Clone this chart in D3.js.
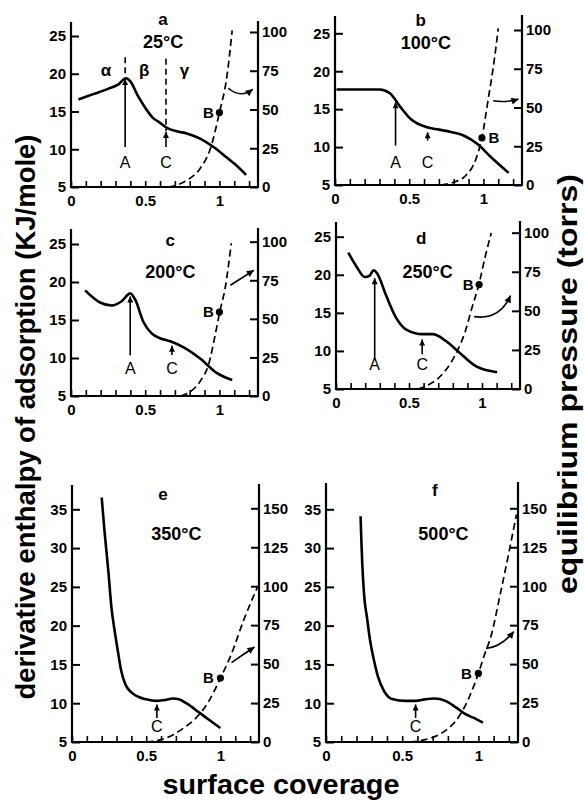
<!DOCTYPE html>
<html><head><meta charset="utf-8">
<script src="https://cdn.jsdelivr.net/npm/d3@7"></script>
<style>
body{margin:0;background:#fff}
svg{display:block}
text{font-family:"Liberation Sans",Arial,sans-serif;fill:#000}
</style>
</head><body>
<svg id="chart" width="584" height="803"></svg>
<script>
// ---------- data ----------
// enthalpy curves (left axis, kJ/mole) vs surface coverage
const covA  = [0.05,0.15,0.25,0.32,0.37,0.40,0.45,0.50,0.55,0.60,0.65,0.72,0.78,0.87,0.96,1.05,1.10,1.18];
const enthA = [16.6,17.3,18.0,18.6,19.4,19.0,17.1,15.5,14.2,13.5,12.8,12.35,12.1,11.4,10.3,8.9,8.1,6.6];
const covB  = [0.01,0.15,0.30,0.37,0.44,0.51,0.62,0.70,0.78,0.87,0.96,1.05,1.17];
const enthB = [17.6,17.6,17.6,17.1,15.3,13.7,12.6,12.3,12.0,11.5,10.4,8.7,6.6];
const covC  = [0.095,0.196,0.275,0.343,0.399,0.432,0.489,0.545,0.60,0.669,0.759,0.872,0.984,1.086];
const enthC = [18.9,17.3,16.9,17.5,18.5,17.7,14.7,13.2,12.6,12.2,11.4,9.9,8.0,7.1];
const covD  = [0.084,0.14,0.197,0.231,0.258,0.281,0.345,0.413,0.481,0.594,0.662,0.753,0.844,0.957,1.104];
const enthD = [22.9,21.1,19.7,19.9,20.6,20.2,17.2,14.3,12.8,12.2,12.2,11.3,9.8,8.0,7.2];
const covE  = [0.20,0.22,0.245,0.265,0.29,0.31,0.33,0.36,0.40,0.45,0.50,0.57,0.62,0.68,0.72,0.77,0.85,0.92,1.0];
const enthE = [36.5,32,27,22.5,19,16.6,14.3,12.4,11.4,10.8,10.5,10.3,10.4,10.6,10.5,10.0,8.9,7.9,6.8];
const covF  = [0.227,0.232,0.238,0.25,0.27,0.29,0.314,0.34,0.38,0.44,0.52,0.588,0.65,0.71,0.784,0.85,0.907,0.97,1.03];
const enthF = [34.1,31,28.0,24,20.9,18,15.6,13.5,11.6,10.5,10.3,10.3,10.5,10.6,10.3,9.5,8.7,8.1,7.5];
// equilibrium pressure curves (right axis, torrs) vs surface coverage
const pcovA = [0.657,0.72,0.78,0.87,0.94,1.0,1.05,1.086];
const presA = [0,1.5,4.3,12,25,48,71,101];
const pcovB = [0.714,0.80,0.873,0.952,0.99,1.03,1.076,1.10];
const presB = [0,1.8,5.4,17.4,30.4,54,82.6,101];
const pcovC = [0.74,0.80,0.872,0.928,0.973,1.002,1.04,1.08];
const presC = [0,2.5,9.8,20.7,40.3,54.4,70.7,99];
const pcovD = [0.56,0.64,0.704,0.818,0.886,0.931,0.976,1.022,1.063];
const presD = [0,3,7.2,22.1,37.1,52,66,84.8,99.8];
const pcovE = [0.5,0.6,0.676,0.76,0.824,0.923,1.0,1.07,1.16,1.25];
const presE = [0,1.5,4.4,9.5,14.3,26.4,41,55.5,79,99.5];
const pcovF = [0.55,0.65,0.735,0.80,0.858,0.944,1.0,1.04,1.08,1.146,1.25];
const presF = [0,1.5,4.4,8.5,14.3,29.7,44,56,67,96,146];
// point B (coverage, pressure)
const pointB = {a:[1.0,48], b:[0.99,30.4], c:[1.0,54.4], d:[0.98,66.8], e:[1.0,41], f:[1.0,44]};
// tick values / labels
const xTicks = d3.range(13).map(i => i/10);
const xTickLabels = {0:"0", 0.5:"0.5", 1:"1"};
const leftTicksTop = [5,10,15,20,25];
const rightTicksTop = [0,25,50,75,100];
const leftTicksBottom = [5,10,15,20,25,30,35];
const rightTicksBottom = [0,25,50,75,100,125,150];
const panelLetters = ["a","b","c","d","e","f"];
const temperatures = ["25°C","100°C","200°C","250°C","350°C","500°C"];

// ---------- layout ----------
const panels = [
 {k:"a",L:71,R:258,B:187,yDom:[5,25],yTop:36,pDom:[0,100],pTop:32,axTop:22,
  cov:covA,enth:enthA,pcov:pcovA,pres:presA,lt:leftTicksTop,rt:rightTicksTop,
  title:[0.62,27.3],temp:[0.62,24.2],A:[0.365,10.3,19.3],C:[0.64,10.3,12.3],lab:8.2,bdx:-11,
  arrow:{from:[1.06,63.7],to:[1.225,63],ctrl:[1.14,57]}},
 {k:"b",L:335,R:522,B:185,yDom:[5,25],yTop:33.3,pDom:[0,100],pTop:30,axTop:16,
  cov:covB,enth:enthB,pcov:pcovB,pres:presB,lt:leftTicksTop,rt:rightTicksTop,
  title:[0.578,26.8],temp:[0.612,23.8],A:[0.408,10.2,15.9],C:[0.624,10.85,11.95],lab:7.96,bdx:12,
  arrow:{from:[1.066,54.3],to:[1.236,55.4],ctrl:[1.15,53]}},
 {k:"c",L:71,R:258,B:396,yDom:[5,25],yTop:244,pDom:[0,100],pTop:241.7,axTop:229,
  cov:covC,enth:enthC,pcov:pcovC,pres:presC,lt:leftTicksTop,rt:rightTicksTop,
  title:[0.669,25.5],temp:[0.669,21.4],A:[0.399,10.35,18.1],C:[0.68,10.4,11.6],lab:8.6,bdx:-11,
  arrow:{from:[1.074,71.8],to:[1.232,81.5],ctrl:[1.153,76.6]}},
 {k:"d",L:336,R:520,B:389,yDom:[5,25],yTop:236.7,pDom:[0,100],pTop:232.7,axTop:222,
  cov:covD,enth:enthD,pcov:pcovD,pres:presD,lt:leftTicksTop,rt:rightTicksTop,
  title:[0.583,24.8],temp:[0.628,20.4],A:[0.265,8.9,19.56],C:[0.59,9.56,11.5],lab:8.26,bdx:-11,
  arrow:{from:[0.946,46.3],to:[1.195,59.8],ctrl:[1.12,44]}},
 {k:"e",L:72,R:259,B:742,yDom:[5,35],yTop:509.3,pDom:[0,150],pTop:508.3,axTop:485,
  cov:covE,enth:enthE,pcov:pcovE,pres:presE,lt:leftTicksBottom,rt:rightTicksBottom,
  title:[0.613,37.0],temp:[0.703,31.9],A:null,C:[0.572,8.1,9.85],lab:7.0,bdx:-12,
  arrow:{from:[1.075,51],to:[1.23,61],ctrl:[1.15,56]}},
 {k:"f",L:326,R:518,B:742,yDom:[5,35],yTop:509.3,pDom:[0,150],pTop:508.3,axTop:483,
  cov:covF,enth:enthF,pcov:pcovF,pres:presF,lt:leftTicksBottom,rt:rightTicksBottom,
  title:[0.715,37.5],temp:[0.771,31.9],A:null,C:[0.588,8.1,9.85],lab:7.0,bdx:-12,
  arrow:{from:[1.05,60],to:[1.233,71],ctrl:[1.15,61]}}
];

const svg = d3.select("#chart");
const defs = svg.append("defs");
defs.append("marker").attr("id","ah").attr("viewBox","0 0 10 10")
  .attr("refX",10).attr("refY",5).attr("markerWidth",10).attr("markerHeight",7)
  .attr("markerUnits","userSpaceOnUse").attr("orient","auto")
  .append("path").attr("d","M0,0 L10,5 L0,10 Z").attr("fill","#000");
defs.append("marker").attr("id","ah2").attr("viewBox","0 0 10 10")
  .attr("refX",10).attr("refY",5).attr("markerWidth",11).attr("markerHeight",6)
  .attr("markerUnits","userSpaceOnUse").attr("orient","auto")
  .append("path").attr("d","M0,0 L10,5 L0,10 Z").attr("fill","#000");

const tickFont = 15;

panels.forEach((p,i) => {
  const g = svg.append("g");
  const x = d3.scaleLinear().domain([0,1.26]).range([p.L,p.R]);
  const y = d3.scaleLinear().domain(p.yDom).range([p.B,p.yTop]);
  const yp = d3.scaleLinear().domain(p.pDom).range([p.B,p.pTop]);

  // axes
  const ax = d3.axisLeft(y).tickValues(p.lt).tickSizeInner(-8).tickSizeOuter(0).tickPadding(5);
  const axL = g.append("g").attr("transform",`translate(${p.L},0)`).call(ax);
  const axr = d3.axisRight(yp).tickValues(p.rt).tickSizeInner(-8).tickSizeOuter(0).tickPadding(4);
  const axR = g.append("g").attr("transform",`translate(${p.R},0)`).call(axr);
  const axb = d3.axisBottom(x).tickValues(xTicks).tickSizeInner(-6).tickSizeOuter(0).tickPadding(8)
    .tickFormat(d => xTickLabels[d] !== undefined ? xTickLabels[d] : "");
  const axB = g.append("g").attr("transform",`translate(0,${p.B})`).call(axb);
  [axL,axR,axB].forEach(a => {
    a.select(".domain").remove();
    a.selectAll("line").attr("stroke","#000").attr("stroke-width",2);
    a.selectAll("text").attr("font-size",tickFont).attr("font-weight","bold")
      .attr("font-family","'Liberation Sans',Arial,sans-serif").attr("fill","#000");
  });
  axB.selectAll("line").attr("stroke-width",1.6);
  // axis lines
  g.append("line").attr("x1",p.L).attr("x2",p.L).attr("y1",p.B+1).attr("y2",p.axTop)
    .attr("stroke","#000").attr("stroke-width",2.2);
  g.append("line").attr("x1",p.R).attr("x2",p.R).attr("y1",p.B+1).attr("y2",p.axTop-1)
    .attr("stroke","#000").attr("stroke-width",2.2);
  g.append("line").attr("x1",p.L-1).attr("x2",p.R+1).attr("y1",p.B).attr("y2",p.B)
    .attr("stroke","#000").attr("stroke-width",2.2);

  // enthalpy curve (solid)
  const enthPts = p.cov.map((c,j) => [c,p.enth[j]]);
  g.append("path").datum(enthPts)
    .attr("d", d3.line().x(d=>x(d[0])).y(d=>y(d[1])).curve(d3.curveMonotoneX))
    .attr("fill","none").attr("stroke","#000").attr("stroke-width",2.6).attr("stroke-linejoin","round");

  // pressure curve (dashed)
  const presPts = p.pcov.map((c,j) => [c,p.pres[j]]);
  g.append("path").datum(presPts)
    .attr("d", d3.line().x(d=>x(d[0])).y(d=>yp(d[1])).curve(d3.curveMonotoneX))
    .attr("fill","none").attr("stroke","#000").attr("stroke-width",1.7).attr("stroke-dasharray","7,4");

  // point B
  const b = pointB[p.k];
  g.append("circle").attr("cx",x(b[0])).attr("cy",yp(b[1])).attr("r",3.6).attr("fill","#000");
  g.append("text").attr("x",x(b[0])+p.bdx).attr("y",yp(b[1])).attr("dy","0.35em")
    .attr("text-anchor","middle").attr("font-size",15).attr("font-weight","bold").text("B");

  // title + temperature
  g.append("text").attr("x",x(p.title[0])).attr("y",y(p.title[1])).attr("dy","0.35em")
    .attr("text-anchor","middle").attr("font-size",17).attr("font-weight","bold").text(panelLetters[i]);
  g.append("text").attr("x",x(p.temp[0])).attr("y",y(p.temp[1])).attr("dy","0.35em")
    .attr("text-anchor","middle").attr("font-size",18).attr("font-weight","bold").text(temperatures[i]);

  // A and C arrows
  const mk = (spec, label) => {
    g.append("line").attr("x1",x(spec[0])).attr("x2",x(spec[0]))
      .attr("y1",y(spec[1])).attr("y2",y(spec[2]))
      .attr("stroke","#000").attr("stroke-width",1.6).attr("marker-end","url(#ah2)");
    g.append("text").attr("x",x(spec[0])).attr("y",y(p.lab)).attr("dy","0.35em")
      .attr("text-anchor","middle").attr("font-size",16).text(label);
  };
  if (p.A) mk(p.A,"A");
  mk(p.C,"C");

  // arrow pointing to the right axis
  const a = p.arrow;
  g.append("path")
    .attr("d",`M${x(a.from[0])},${yp(a.from[1])} Q${x(a.ctrl[0])},${yp(a.ctrl[1])} ${x(a.to[0])},${yp(a.to[1])}`)
    .attr("fill","none").attr("stroke","#000").attr("stroke-width",1.6).attr("marker-end","url(#ah)");

  // phase regions in panel a
  if (p.k === "a") {
    [[0.365,22.2,19.6],[0.64,22.0,12.4]].forEach(v => {
      g.append("line").attr("x1",x(v[0])).attr("x2",x(v[0])).attr("y1",y(v[1])).attr("y2",y(v[2]))
        .attr("stroke","#000").attr("stroke-width",1.6).attr("stroke-dasharray","6,4");
    });
    [["α",0.236],["β",0.493],["γ",0.764]].forEach(v => {
      g.append("text").attr("x",x(v[1])).attr("y",y(20.5)).attr("dy","0.35em")
        .attr("text-anchor","middle").attr("font-size",17).attr("font-weight","bold").text(v[0]);
    });
  }
});

// axis titles
svg.append("text").attr("transform","translate(35,417) rotate(-90)")
  .attr("text-anchor","middle").attr("font-size",27).attr("font-weight","bold")
  .attr("textLength",565).attr("lengthAdjust","spacingAndGlyphs")
  .text("derivative enthalpy of adsorption (KJ/mole)");
svg.append("text").attr("transform","translate(577,384) rotate(-90)")
  .attr("text-anchor","middle").attr("font-size",27).attr("font-weight","bold")
  .attr("textLength",420).attr("lengthAdjust","spacingAndGlyphs")
  .text("equilibrium pressure (torrs)");
svg.append("text").attr("x",281).attr("y",794)
  .attr("text-anchor","middle").attr("font-size",27).attr("font-weight","bold")
  .attr("textLength",237).attr("lengthAdjust","spacingAndGlyphs")
  .text("surface coverage");
</script>
</body></html>
